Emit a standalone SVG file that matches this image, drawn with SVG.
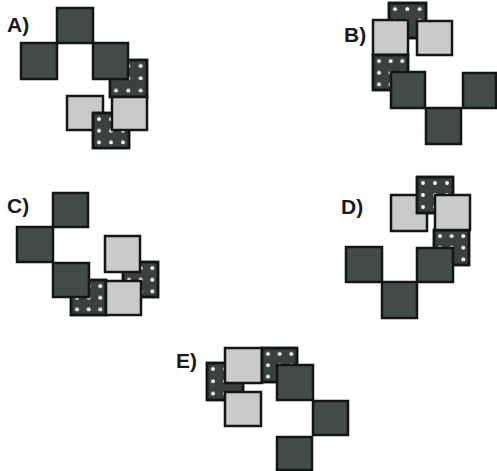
<svg xmlns="http://www.w3.org/2000/svg" width="497" height="471" viewBox="0 0 497 471">
<defs>
<pattern id="dots" patternUnits="objectBoundingBox" width="0.3333" height="0.3333" patternContentUnits="userSpaceOnUse">
<circle cx="6" cy="6" r="1.9" fill="#ffffff"/>
</pattern>
</defs>
<style>
.dk{fill:#434c47;stroke:#141614;stroke-width:2.5}
.lt{fill:#cacaca;stroke:#141614;stroke-width:2.5}
.db{fill:#3b423e;stroke:#141614;stroke-width:2.5}
.dd{fill:url(#dots);stroke:#141614;stroke-width:2.5}
.lb{font-family:"Liberation Sans",Arial,sans-serif;font-size:21px;font-weight:bold;fill:#1a1a1a}
</style>
<rect width="497" height="471" fill="#ffffff"/>
<g id="optA">
<text class="lb" x="7" y="32">A)</text>
<rect class="dk" x="57" y="8" width="36" height="35"/>
<rect class="dk" x="21" y="43" width="36" height="36"/>
<g><rect class="db" x="110" y="60" width="37" height="37"/><rect class="dd" x="110" y="60" width="37" height="37"/></g>
<rect class="dk" x="93" y="43" width="35" height="36"/>
<rect class="lt" x="67" y="96" width="36" height="34"/>
<g><rect class="db" x="93" y="113" width="36" height="35"/><rect class="dd" x="93" y="113" width="36" height="35"/></g>
<rect class="lt" x="112" y="97" width="35" height="33"/>
</g>
<g id="optB">
<text class="lb" x="344" y="42">B)</text>
<g><rect class="db" x="389" y="3" width="37" height="35"/><rect class="dd" x="389" y="3" width="37" height="35"/></g>
<rect class="lt" x="373" y="20" width="35" height="35"/>
<rect class="lt" x="417" y="21" width="35" height="34"/>
<g><rect class="db" x="373" y="55" width="35" height="35"/><rect class="dd" x="373" y="55" width="35" height="35"/></g>
<rect class="dk" x="391" y="72" width="34" height="36"/>
<rect class="dk" x="463" y="73" width="33" height="35"/>
<rect class="dk" x="426" y="108" width="35" height="36"/>
</g>
<g id="optC">
<text class="lb" x="7" y="213">C)</text>
<rect class="dk" x="53" y="193" width="35" height="34"/>
<rect class="dk" x="17" y="227" width="36" height="35"/>
<g><rect class="db" x="71" y="280" width="35" height="35"/><rect class="dd" x="71" y="280" width="35" height="35"/></g>
<rect class="dk" x="53" y="263" width="36" height="34"/>
<g><rect class="db" x="123" y="262" width="35" height="35"/><rect class="dd" x="123" y="262" width="35" height="35"/></g>
<rect class="lt" x="105" y="236" width="35" height="36"/>
<rect class="lt" x="106" y="281" width="35" height="34"/>
</g>
<g id="optD">
<text class="lb" x="341" y="214">D)</text>
<rect class="lt" x="391" y="195" width="36" height="36"/>
<g><rect class="db" x="417" y="177" width="36" height="36"/><rect class="dd" x="417" y="177" width="36" height="36"/></g>
<g><rect class="db" x="434" y="230" width="35" height="35"/><rect class="dd" x="434" y="230" width="35" height="35"/></g>
<rect class="lt" x="435" y="195" width="35" height="35"/>
<rect class="dk" x="417" y="248" width="36" height="34"/>
<rect class="dk" x="346" y="247" width="36" height="35"/>
<rect class="dk" x="382" y="282" width="35" height="36"/>
</g>
<g id="optE">
<text class="lb" x="176" y="368">E)</text>
<g><rect class="db" x="207" y="363" width="36" height="37"/><rect class="dd" x="207" y="363" width="36" height="37"/></g>
<rect class="lt" x="225" y="348" width="37" height="35"/>
<rect class="lt" x="225" y="392" width="36" height="34"/>
<g><rect class="db" x="262" y="348" width="35" height="34"/><rect class="dd" x="262" y="348" width="35" height="34"/></g>
<rect class="dk" x="277" y="365" width="36" height="35"/>
<rect class="dk" x="313" y="401" width="35" height="34"/>
<rect class="dk" x="277" y="437" width="35" height="33"/>
</g>
</svg>
